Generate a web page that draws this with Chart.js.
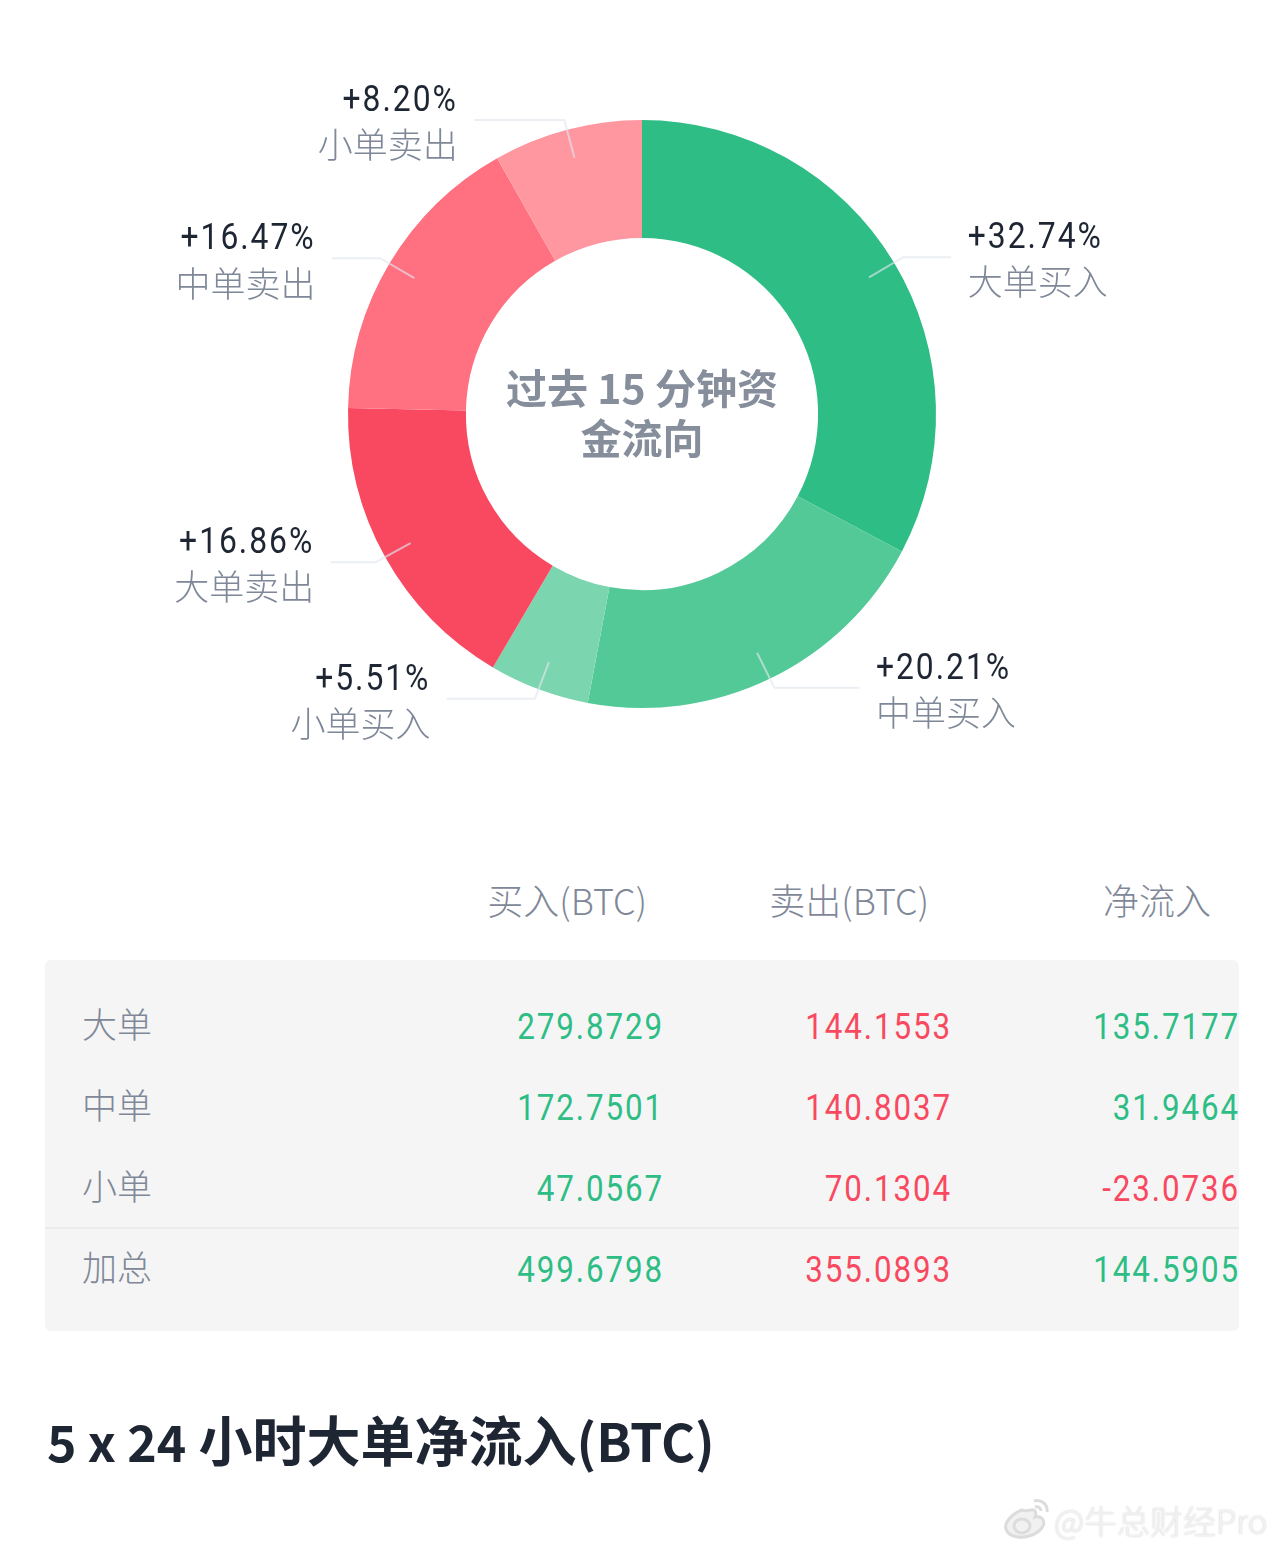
<!DOCTYPE html>
<html>
<head>
<meta charset="utf-8">
<script src="https://cdn.jsdelivr.net/npm/chart.js@4"></script>
<style>
  html, body { margin: 0; padding: 0; background: #fff; }
  body { position: relative; width: 1284px; height: 1550px; overflow: hidden; font-family: "Noto Sans CJK SC", sans-serif; }
  canvas { position: absolute; left: 0; top: 0; }
  #panel { position: absolute; left: 45px; top: 960px; width: 1194px; height: 371px; background: #f5f5f5; border-radius: 6px; }
  #divider { position: absolute; left: 45px; top: 1227px; width: 1194px; height: 2px; background: #ebebeb; }
  .cell { position: absolute; white-space: nowrap; line-height: 50px; height: 50px; }
  .num { font-family: Roboto, sans-serif; font-size: 36px; letter-spacing: 2.2px; transform-origin: 100% 50%; transform: translate(-100%, 0) scaleX(0.87); }
  .head { font-size: 36px; font-weight: 300; color: #7f8898; transform: translate(-100%, 0); }
  .name { font-size: 35px; font-weight: 300; color: #7f8898; }
  #title { position: absolute; left: 47px; top: 1399px; font-size: 54px; font-weight: 700; color: #1e2533; line-height: 80px; white-space: nowrap; }
  #title .lead { font-size: 50px; }
  #title .tail { font-size: 52px; }
  #mark { position: absolute; left: 1054px; top: 1495px; font-size: 33px; font-weight: 300; line-height: 50px; color: #f2f2f2; text-shadow: 0 0 2px #cfcfcf; white-space: nowrap; }
  #logo { position: absolute; left: 1002px; top: 1496px; }
</style>
</head>
<body>
<canvas id="donut" width="1284" height="840"></canvas>
<div id="panel"></div>
<div id="divider"></div>
<div id="table"></div>
<div id="title"><span class="lead">5 x 24</span> 小时大单净流入<span class="tail">(BTC)</span></div>
<svg id="logo" width="50" height="44" viewBox="0 0 50 44" fill="none" stroke="#dcdcdc" stroke-width="3">
  <path d="M20 14C9 18 2 27 4 33c2 7 13 10 23 7s17-10 14-16c-1-3-5-4-8-3 2-5 0-8-4-7-3 0-6 2-9 0z" fill="#f1f1f1"/>
  <ellipse cx="20" cy="30" rx="8" ry="7"/>
  <path d="M32 5c7-2 14 3 13 11M33 11c3-1 6 1 6 4"/>
</svg>
<div id="mark">@牛总财经Pro</div>

<script>
var sliceNames = ['大单买入', '中单买入', '小单买入', '大单卖出', '中单卖出', '小单卖出'];
var slicePercents = [32.74, 20.21, 5.51, 16.86, 16.47, 8.20];
var sliceColors = ['#2ebd85', '#52c997', '#7bd5ae', '#f84960', '#ff7080', '#ff97a0'];

var centerLines = ['过去 15 分钟资', '金流向'];

var tableColumns = ['买入(BTC)', '卖出(BTC)', '净流入'];
var tableRows = ['大单', '中单', '小单', '加总'];
var buyValues = ['279.8729', '172.7501', '47.0567', '499.6798'];
var sellValues = ['144.1553', '140.8037', '70.1304', '355.0893'];
var netValues = ['135.7177', '31.9464', '-23.0736', '144.5905'];

var green = '#2ebd85';
var red = '#f84960';

// horizontal run of each leader line, same order as the slices
var leaderRuns = [48, 85, 88, 45, 48, 90];

function addCell(cls, text, x, y, color) {
  var d = document.createElement('div');
  d.className = 'cell ' + cls;
  d.textContent = text;
  d.style.left = x + 'px';
  d.style.top = (y - 25) + 'px';
  if (color) d.style.color = color;
  document.getElementById('table').appendChild(d);
}

var headRight = [647, 929, 1211];
tableColumns.forEach(function (c, i) {
  addCell('head', c, headRight[i], 899);
});

var rowY = [1026, 1107, 1188, 1269];
tableRows.forEach(function (r, i) {
  addCell('name', r, 82, rowY[i] - 3);
  addCell('num', buyValues[i], 664, rowY[i] + 1, green);
  addCell('num', sellValues[i], 952, rowY[i] + 1, red);
  addCell('num', netValues[i], 1240, rowY[i] + 1, netValues[i].charAt(0) === '-' ? red : green);
});

// leader lines, percent labels and the text in the hole
var donutLabels = {
  id: 'donutLabels',
  afterDatasetsDraw: function (chart) {
    var ctx = chart.ctx;
    var arcs = chart.getDatasetMeta(0).data;
    ctx.save();
    arcs.forEach(function (arc, i) {
      var mid = (arc.startAngle + arc.endAngle) / 2;
      var cos = Math.cos(mid), sin = Math.sin(mid);
      var sx = arc.x + cos * 265, sy = arc.y + sin * 265;
      var ex = arc.x + cos * 305, ey = arc.y + sin * 304;
      var side = cos > 0 ? 1 : -1;
      var tx = ex + side * leaderRuns[i];

      ctx.beginPath();
      ctx.moveTo(sx, sy);
      ctx.lineTo(ex, ey);
      ctx.lineTo(tx, ey);
      ctx.lineWidth = 2;
      ctx.strokeStyle = 'rgba(225,230,238,0.65)';
      ctx.stroke();

      var lx = tx + side * 16.5;
      ctx.textAlign = side > 0 ? 'left' : 'right';
      ctx.textBaseline = 'middle';
      ctx.fillStyle = '#1e2533';
      ctx.font = '36px Roboto, sans-serif';
      ctx.letterSpacing = '2.2px';
      var pct = '+' + slicePercents[i].toFixed(2) + '%';
      ctx.fillText(pct, lx, ey - 18, ctx.measureText(pct).width * 0.885);
      ctx.letterSpacing = '0px';
      ctx.fillStyle = '#7f8898';
      ctx.font = '300 35px "Noto Sans CJK SC", sans-serif';
      ctx.fillText(sliceNames[i], lx, ey + 25);
    });

    ctx.textAlign = 'center';
    ctx.textBaseline = 'middle';
    ctx.fillStyle = '#868e9c';
    ctx.font = '700 41px "Noto Sans CJK SC", sans-serif';
    centerLines.forEach(function (t, i) {
      ctx.fillText(t, arcs[0].x, 388 + i * 50);
    });
    ctx.restore();
  }
};

new Chart(document.getElementById('donut').getContext('2d'), {
  type: 'doughnut',
  data: {
    labels: sliceNames,
    datasets: [{
      data: slicePercents,
      backgroundColor: sliceColors,
      borderWidth: 0
    }]
  },
  options: {
    responsive: false,
    animation: false,
    cutout: '59.9%',
    layout: { padding: { left: 348, right: 348, top: 120, bottom: 132 } },
    plugins: { legend: { display: false }, tooltip: { enabled: false } }
  },
  plugins: [donutLabels]
});
</script>
</body>
</html>
